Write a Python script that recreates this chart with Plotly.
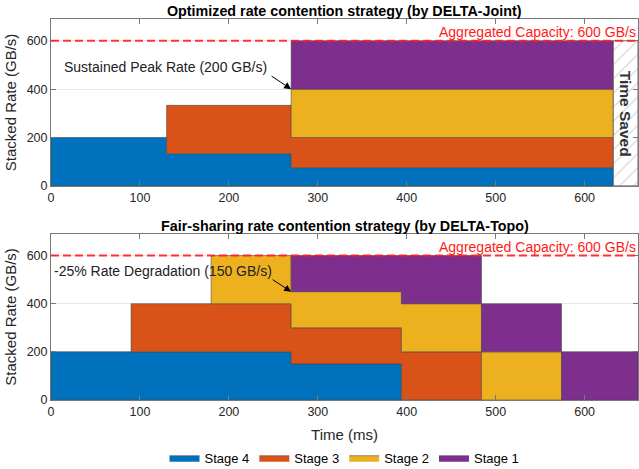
import plotly.graph_objects as go

# ---- data -----------------------------------------------------------------
stages = ["Stage 4", "Stage 3", "Stage 2", "Stage 1"]
stage_colors = ["#0072BD", "#D95319", "#EDB120", "#7E2F8E"]

# DELTA-Joint: interval edges (ms) and per-stage rates (GB/s) in each interval
joint_edges = [0, 130, 270, 632]
joint_rates = {
    "Stage 4": [200, 133, 75],
    "Stage 3": [0, 200, 125],
    "Stage 2": [0, 0, 200],
    "Stage 1": [0, 0, 200],
}

# DELTA-Topo: interval edges (ms) and per-stage rates (GB/s) in each interval
topo_edges = [0, 90, 180, 270, 394, 484, 574, 660]
topo_rates = {
    "Stage 4": [200, 200, 200, 150, 0, 0, 0],
    "Stage 3": [0, 200, 200, 150, 200, 0, 0],
    "Stage 2": [0, 0, 200, 150, 200, 200, 0],
    "Stage 1": [0, 0, 0, 150, 200, 200, 200],
}

capacity = 600
x_max = 660
y_max = 690
x_ticks = [0, 100, 200, 300, 400, 500, 600]
y_ticks = [0, 200, 400, 600]

FONT = "Liberation Sans, Arial, sans-serif"
AX_GRAY = "rgb(120,120,120)"
EDGE = "rgba(70,70,70,0.7)"

fig = go.Figure()


def add_stacked(edges, rates, xa, ya, legend):
    """Stack the stages as stepped area polygons, one polygon per stage."""
    n = len(edges) - 1
    base = [0.0] * n
    for name, color in zip(stages, stage_colors):
        vals = rates[name]
        active = [i for i in range(n) if vals[i] > 0]
        lo, hi = active[0], active[-1]
        xs, ys = [], []
        for i in range(lo, hi + 1):            # upper boundary, left to right
            top = base[i] + vals[i]
            xs += [edges[i], edges[i + 1]]
            ys += [top, top]
        for i in range(hi, lo - 1, -1):        # lower boundary, right to left
            xs += [edges[i + 1], edges[i]]
            ys += [base[i], base[i]]
        xs.append(xs[0])
        ys.append(ys[0])
        fig.add_trace(go.Scatter(
            x=xs, y=ys, mode="lines", fill="toself", fillcolor=color,
            line=dict(color=EDGE, width=0.8), name=name,
            xaxis=xa, yaxis=ya, showlegend=legend, legendgroup=name,
            hoverinfo="skip",
        ))
        for i in range(n):
            base[i] += vals[i]


add_stacked(joint_edges, joint_rates, "x", "y", True)
add_stacked(topo_edges, topo_rates, "x2", "y2", False)

# hatched "time saved" span after the DELTA-Joint finish
saved_start = joint_edges[-1]
fig.add_trace(go.Bar(
    x=[(saved_start + x_max) / 2], y=[capacity], base=[0],
    width=[x_max - saved_start],
    marker=dict(color="white",
                line=dict(color="rgb(110,110,110)", width=1),
                pattern=dict(shape="/", fgcolor="rgb(160,160,160)",
                             bgcolor="white", size=10, solidity=0.1)),
    xaxis="x", yaxis="y", showlegend=False, hoverinfo="skip",
))

# capacity lines
for xr, yr in (("x", "y"), ("x2", "y2")):
    fig.add_shape(type="line", xref=xr, yref=yr, x0=0, x1=x_max,
                  y0=capacity, y1=capacity, layer="above",
                  line=dict(color="rgba(255,30,30,0.9)", width=2, dash="8px,4px"))

ann_font = dict(family=FONT, size=14, color="#222")
red_font = dict(family=FONT, size=14, color="#FF1A1A")
title_font = dict(family=FONT, size=14.3, color="#000")

annotations = [
    # titles
    dict(text="<b>Optimized rate contention strategy (by DELTA-Joint)</b>",
         xref="x domain", yref="y domain", x=0.5, y=1.0, yanchor="bottom",
         xanchor="center", showarrow=False, yshift=-2, font=title_font),
    dict(text="<b>Fair-sharing rate contention strategy (by DELTA-Topo)</b>",
         xref="x2 domain", yref="y2 domain", x=0.5, y=1.0, yanchor="bottom",
         xanchor="center", showarrow=False, yshift=-2, font=title_font),
    # capacity labels
    dict(text="Aggregated Capacity: 600 GB/s", xref="x", yref="y",
         x=x_max, y=capacity, xanchor="right", yanchor="bottom",
         showarrow=False, font=red_font, yshift=-1),
    dict(text="Aggregated Capacity: 600 GB/s", xref="x2", yref="y2",
         x=x_max, y=capacity, xanchor="right", yanchor="bottom",
         showarrow=False, font=red_font, yshift=-1),
    # callouts
    dict(text="Sustained Peak Rate (200 GB/s)", xref="x", yref="y",
         x=12, y=492, xanchor="left", yanchor="middle", showarrow=False,
         font=ann_font),
    dict(text="", xref="x", yref="y", x=270, y=400, ax=-21, ay=-14,
         showarrow=True, arrowhead=2, arrowsize=1.4, arrowwidth=1,
         arrowcolor="#000"),
    dict(text="-25% Rate Degradation (150 GB/s)", xref="x2", yref="y2",
         x=1, y=536, xanchor="left", yanchor="middle", showarrow=False,
         font=ann_font),
    dict(text="", xref="x2", yref="y2", x=270, y=450, ax=-20, ay=-13,
         showarrow=True, arrowhead=2, arrowsize=1.4, arrowwidth=1,
         arrowcolor="#000"),
    # time saved label
    dict(text="<b>Time Saved</b>", xref="x", yref="y",
         x=(saved_start + x_max) / 2, y=300, textangle=90, showarrow=False,
         font=dict(family=FONT, size=15.5, color="#333")),
]

axis_common = dict(
    showline=True, mirror="ticks", linecolor=AX_GRAY, linewidth=1,
    ticks="inside", ticklen=5, tickcolor=AX_GRAY,
    tickfont=dict(family=FONT, size=12.5, color="#262626"),
    zeroline=False,
)

fig.update_layout(
    width=639, height=469,
    margin=dict(l=51, r=1, t=19, b=69, autoexpand=False),
    paper_bgcolor="white", plot_bgcolor="white",
    barmode="overlay",
    font=dict(family=FONT, color="#262626"),
    xaxis=dict(domain=[0, 1], anchor="y", range=[0, x_max],
               tickvals=x_ticks, showgrid=False, **axis_common),
    yaxis=dict(domain=[0.562, 1], anchor="x", range=[0, y_max],
               tickvals=y_ticks, showgrid=True, gridcolor="rgb(232,232,232)",
               title=dict(text="Stacked Rate (GB/s)", standoff=6,
                          font=dict(family=FONT, size=15, color="#262626")),
               **axis_common),
    xaxis2=dict(domain=[0, 1], anchor="y2", range=[0, x_max],
                tickvals=x_ticks, showgrid=False,
                title=dict(text="Time (ms)", standoff=12,
                           font=dict(family=FONT, size=15, color="#262626")),
                **axis_common),
    yaxis2=dict(domain=[0, 0.436], anchor="x2", range=[0, y_max],
                tickvals=y_ticks, showgrid=True, gridcolor="rgb(232,232,232)",
                title=dict(text="Stacked Rate (GB/s)", standoff=6,
                           font=dict(family=FONT, size=15, color="#262626")),
                **axis_common),
    legend=dict(orientation="h", x=0.5, xanchor="center",
                yref="container", y=0.024, yanchor="middle",
                font=dict(family=FONT, size=13, color="#000"),
                itemwidth=30, tracegroupgap=0),
    annotations=annotations,
)

fig.write_html("out.html")
